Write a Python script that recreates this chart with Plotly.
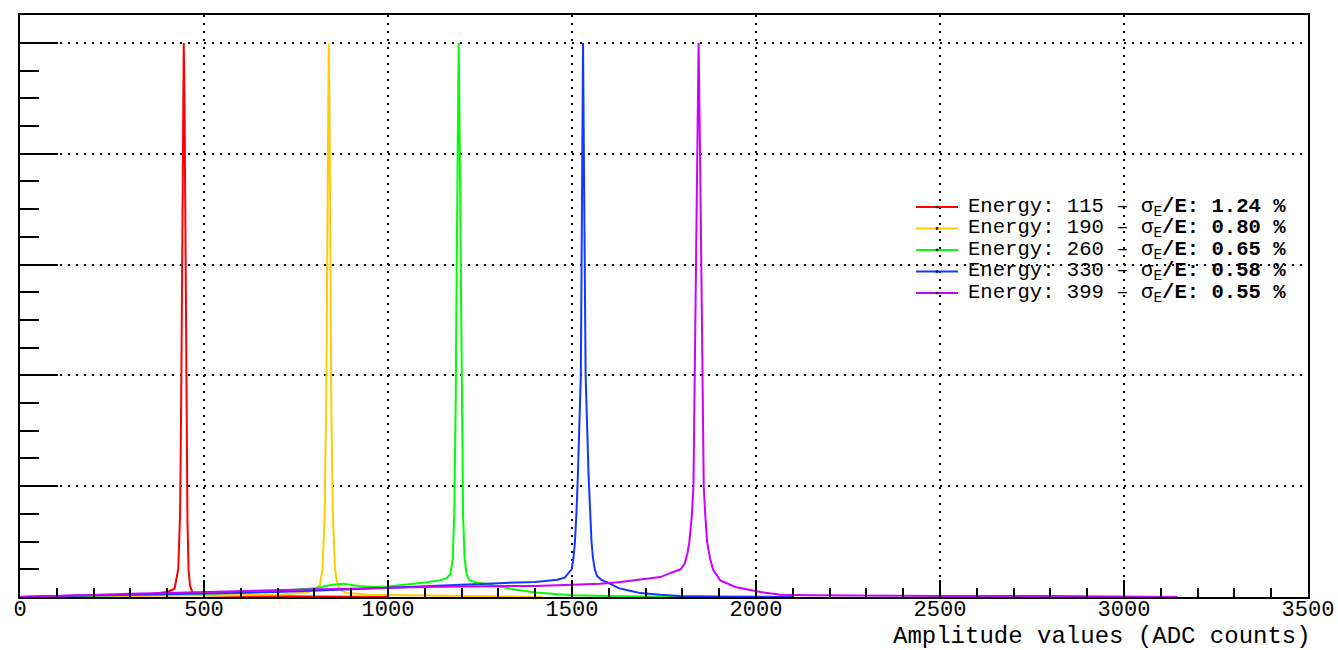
import plotly.graph_objects as go

# Beam energies and fitted resolutions shown in the legend
energies = [115, 190, 260, 330, 399]
resolutions = ["1.24", "0.80", "0.65", "0.58", "0.55"]
colors = ["#ff0000", "#ffcc00", "#00ff00", "#1438ff", "#cc00ff"]

# Normalised amplitude spectra (peak = 1), one per energy
red_x = [0, 100, 200, 300, 360, 400, 420, 430, 435, 438, 441, 443, 445, 447, 449,
         452, 455, 458, 462, 470, 500, 600, 800, 950, 1000]
red_y = [0, 0.002, 0.003, 0.004, 0.006, 0.009, 0.015, 0.05, 0.15, 0.35, 0.7, 0.92,
         1.0, 0.9, 0.68, 0.35, 0.14, 0.05, 0.02, 0.006, 0.003, 0.002, 0.001, 0.001, 0]

yellow_x = [0, 200, 400, 600, 700, 780, 805, 815, 822, 828, 832, 835, 837, 839, 841,
            843, 846, 850, 856, 863, 872, 890, 950, 1050, 1200, 1350, 1420]
yellow_y = [0, 0.001, 0.002, 0.003, 0.004, 0.008, 0.014, 0.022, 0.05, 0.15, 0.35,
            0.62, 0.88, 1.0, 0.88, 0.62, 0.35, 0.15, 0.05, 0.022, 0.012, 0.007, 0.004,
            0.003, 0.002, 0.001, 0]

green_x = [0, 200, 400, 600, 700, 800, 850, 880, 920, 960, 1000, 1050, 1100, 1140,
           1160, 1170, 1176, 1180, 1184, 1187, 1190, 1192, 1194, 1197, 1200, 1204,
           1208, 1214, 1222, 1240, 1270, 1300, 1350, 1400, 1450, 1500, 1600, 1700, 1800]
green_y = [0, 0.002, 0.004, 0.007, 0.011, 0.016, 0.022, 0.024, 0.02, 0.018, 0.019,
           0.022, 0.026, 0.03, 0.034, 0.042, 0.07, 0.15, 0.35, 0.62, 0.88, 1.0, 0.88,
           0.62, 0.35, 0.15, 0.07, 0.04, 0.03, 0.026, 0.023, 0.019, 0.013, 0.008,
           0.005, 0.003, 0.002, 0.001, 0]

blue_x = [0, 100, 300, 500, 700, 900, 1000, 1100, 1200, 1300, 1400, 1460, 1480, 1490,
          1499, 1504, 1508, 1512, 1516, 1524, 1526, 1528, 1530, 1532, 1534, 1537,
          1545, 1549, 1553, 1557, 1562, 1568, 1580, 1600, 1627, 1660, 1686, 1740,
          1794, 1900, 2000, 2100]
blue_y = [0, 0.002, 0.004, 0.006, 0.009, 0.014, 0.017, 0.02, 0.023, 0.025, 0.027,
          0.031, 0.035, 0.042, 0.05, 0.07, 0.1, 0.15, 0.22, 0.4, 0.6, 0.82, 1.0,
          0.82, 0.6, 0.4, 0.22, 0.15, 0.1, 0.07, 0.05, 0.038, 0.031, 0.025, 0.016,
          0.011, 0.007, 0.004, 0.002, 0.001, 0.0005, 0]

magenta_x = [0, 50, 100, 200, 300, 400, 500, 600, 700, 800, 900, 1000, 1100, 1200,
             1300, 1400, 1500, 1577, 1632, 1686, 1740, 1767, 1795, 1806, 1814, 1819,
             1826, 1830, 1834, 1837, 1840, 1844, 1848, 1851, 1854, 1858, 1862, 1867,
             1875, 1883, 1903, 1944, 2012, 2066, 2150, 2300, 2500, 2800, 3000, 3140, 3145]
magenta_y = [0, 0.001, 0.003, 0.004, 0.006, 0.007, 0.009, 0.011, 0.013, 0.014, 0.015,
             0.017, 0.018, 0.019, 0.019, 0.02, 0.022, 0.024, 0.027, 0.031, 0.036,
             0.043, 0.05, 0.06, 0.08, 0.1, 0.15, 0.2, 0.4, 0.6, 0.8, 1.0, 0.8, 0.6,
             0.4, 0.2, 0.15, 0.1, 0.07, 0.05, 0.03, 0.018, 0.009, 0.004, 0.003, 0.002,
             0.002, 0.002, 0.001, 0.001, 0]

x_tick_vals = [0, 500, 1000, 1500, 2000, 2500, 3000, 3500]
x_tick_text = ["0", "500", "1000", "1500", "2000", "2500", "3000", "3500"]

spectra = [(red_x, red_y), (yellow_x, yellow_y), (green_x, green_y),
           (blue_x, blue_y), (magenta_x, magenta_y)]

MONO = "Liberation Mono"

fig = go.Figure()
for (xs, ys), col, e in zip(spectra, colors, energies):
    fig.add_trace(go.Scatter(x=xs, y=ys, mode="lines", name=f"E = {e}",
                             line=dict(color=col, width=2), showlegend=False))

# Plot frame geometry (pixels) used to place the hand-drawn legend
W, H = 1338, 650
ML, MR, MT, MB = 20, 30, 15, 53
PW, PH = W - ML - MR, H - MT - MB


def px_x(p):
    return (p - ML) / PW


def px_y(p):
    return (H - MB - p) / PH


shapes = []
annotations = []
row0, row_gap = 207, 21.5
for i, (e, r, col) in enumerate(zip(energies, resolutions, colors)):
    yy = px_y(row0 + i * row_gap)
    shapes.append(dict(type="line", xref="paper", yref="paper",
                       x0=px_x(916), x1=px_x(958), y0=yy, y1=yy,
                       line=dict(color=col, width=2)))
    shapes.append(dict(type="rect", xref="paper", yref="paper",
                       xsizemode="pixel", ysizemode="pixel",
                       xanchor=px_x(937), yanchor=yy,
                       x0=-1.2, x1=1.2, y0=-1.2, y1=1.2,
                       fillcolor="black", line=dict(width=0)))
    annotations.append(dict(
        xref="paper", yref="paper", x=px_x(966), y=yy,
        xanchor="left", yanchor="middle", showarrow=False,
        text=f"Energy: {e} – σ<sub>E</sub><b>/E: {r} %</b>",
        font=dict(family=MONO, size=20.6, color="black")))

annotations.append(dict(
    xref="paper", yref="paper", x=px_x(1313), y=px_y(636),
    xanchor="right", yanchor="middle", showarrow=False,
    text="Amplitude values (ADC counts)",
    font=dict(family=MONO, size=24, color="black")))

fig.update_layout(
    width=W, height=H,
    margin=dict(l=ML, r=MR, t=MT, b=MB, pad=0, autoexpand=False),
    paper_bgcolor="white", plot_bgcolor="white",
    showlegend=False,
    shapes=shapes, annotations=annotations,
    font=dict(family=MONO, size=22, color="black"),
)

fig.update_xaxes(
    range=[0, 3500], tickmode="array", tickvals=x_tick_vals, ticktext=x_tick_text,
    ticks="inside", ticklen=17, tickwidth=1.5, tickcolor="black",
    minor=dict(dtick=100, ticks="inside", ticklen=9, tickwidth=1.5,
               tickcolor="black", showgrid=False),
    showline=True, linecolor="black", linewidth=2, mirror=True,
    showgrid=True, gridcolor="black", gridwidth=1.5, griddash="2px,6px",
    zeroline=False, automargin=False, ticklabelstandoff=-9,
    tickfont=dict(family=MONO, size=22, color="black"),
)
fig.update_yaxes(
    range=[0, 1.0505], dtick=0.2, tick0=0, showticklabels=False,
    ticks="inside", ticklen=38, tickwidth=2, tickcolor="black",
    minor=dict(dtick=0.05, ticks="inside", ticklen=19, tickwidth=2,
               tickcolor="black", showgrid=False),
    showline=True, linecolor="black", linewidth=2, mirror=True,
    showgrid=True, gridcolor="black", gridwidth=1.5, griddash="2px,6px",
    zeroline=False, automargin=False,
)

fig.write_html("out.html")
